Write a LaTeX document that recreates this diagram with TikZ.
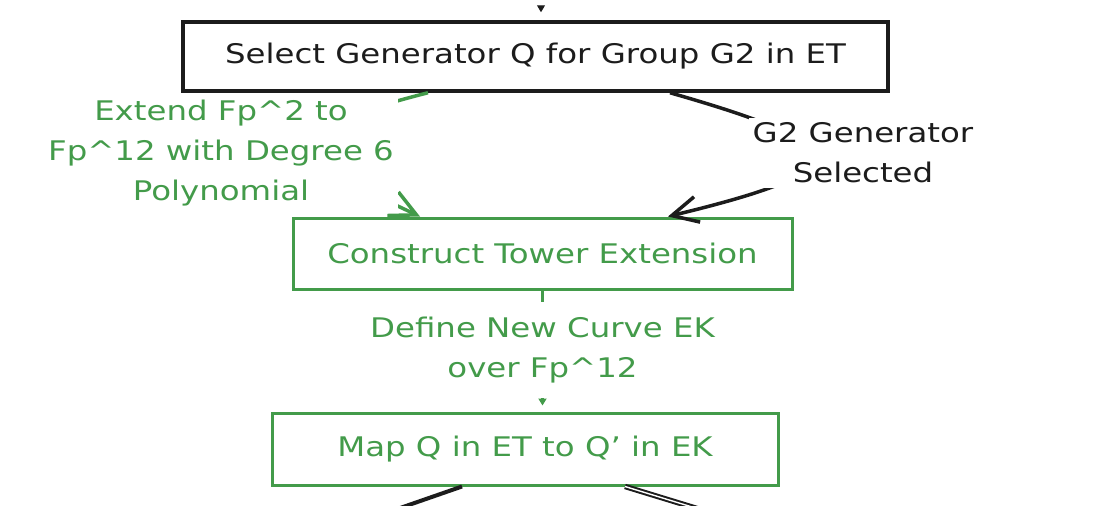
\documentclass[tikz,border=0pt]{standalone}
\usepackage{fontspec}
\setmainfont{DejaVu Sans}[FakeStretch=1.2]
\usetikzlibrary{arrows.meta}
\definecolor{flowgreen}{RGB}{67,155,74}
\definecolor{flowblack}{RGB}{28,28,28}
\begin{document}
\begin{tikzpicture}[x=1pt,y=-1pt]

    \tikzset{
      box/.style={
        draw,
        line width=3pt,
        inner sep=0pt,
        font=\fontsize{27}{40}\selectfont,
      },
      edgelabel/.style={
        fill=white,
        align=center,
        inner xsep=4pt,
        inner ysep=5pt,
        font=\fontsize{27}{40}\selectfont,
      },
      barb/.style={-{Straight Barb[length=26pt,width=26pt,line width=3.5pt]}},
      tip/.style={-{Triangle[length=7pt,width=8pt]}},
    }
    \useasboundingbox (0,0) rectangle (1096,506);
    \clip (0,0) rectangle (1096,506);

	 \node[box,color=flowblack,line width=3.5pt,minimum width=705pt,minimum height=69pt] (select) at (535.5,56.5) {Select Generator Q for Group G2 in ET};

	 \node[box,color=flowgreen,minimum width=499pt,minimum height=71pt] (tower) at (542.5,253.5) {Construct Tower Extension};

	 \node[box,color=flowgreen,minimum width=506pt,minimum height=72pt] (mapq) at (525,449) {Map Q in ET to Q' in EK};

	 \coordinate (entry) at (541,7);
	 \coordinate (leftexit) at (380,515);
	 \coordinate (rightexit) at (715,514);

	 \draw[tip,color=flowblack,line width=1pt,shorten >=8pt] (entry) -- (entry |- select.north);

	 \draw[barb,color=flowgreen,line width=3.5pt] ([xshift=-107.5pt]select.south) .. controls (250,138) and (300,160) .. ([xshift=-122.5pt]tower.north);

	 \draw[barb,color=flowblack,line width=3.5pt] ([xshift=134.5pt]select.south) .. controls (860,147) and (860,170) .. ([xshift=125.5pt]tower.north);

	 \draw[tip,color=flowgreen,line width=3pt,shorten >=6pt] (tower.south) -- (tower.south |- mapq.north);

	 \draw[color=flowblack,line width=4pt] ([xshift=-63pt]mapq.south) -- (leftexit);

	 \draw[color=flowblack,double=white,double distance=1.4pt,line width=2pt] ([xshift=100pt]mapq.south) -- (rightexit);

	 \node[edgelabel,text=flowgreen] (extendlabel) at (221,153) {Extend Fp\^{}2 to\\Fp\^{}12 with Degree 6\\Polynomial};

	 \node[edgelabel,text=flowblack] (g2label) at (863,153) {G2 Generator\\Selected};

	 \node[edgelabel,text=flowgreen,inner ysep=15pt] (curvelabel) at (542.5,350) {Define New Curve EK\\over Fp\^{}12};

\end{tikzpicture}
\end{document}
